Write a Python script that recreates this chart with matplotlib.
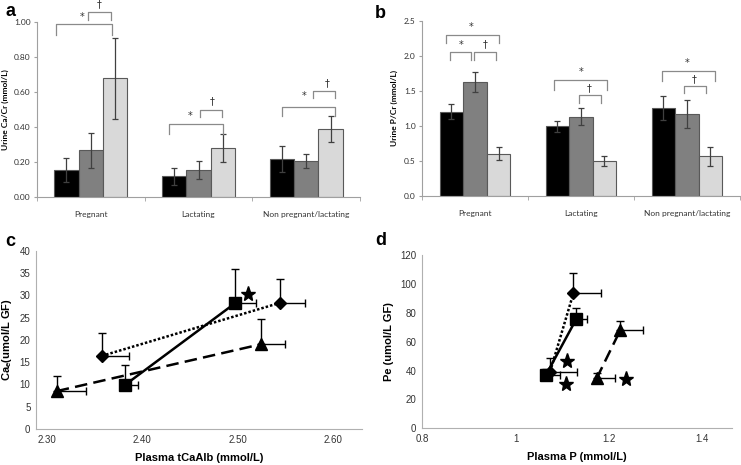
import matplotlib
import matplotlib.pyplot as plt
import numpy as np

matplotlib.use("Agg")

plt.rcParams["mathtext.fontset"] = "custom"
plt.rcParams["mathtext.bf"] = "Liberation Sans:bold"
plt.rcParams["mathtext.rm"] = "Liberation Sans"

# ---- data ----
groups = ["Pregnant", "Lactating", "Non pregnant/lactating"]

# panel a: urine Ca/Cr (mmol/L)
ca_black = [0.155, 0.12, 0.22]
ca_black_err = [0.07, 0.047, 0.075]
ca_gray = [0.27, 0.155, 0.21]
ca_gray_err = [0.10, 0.05, 0.04]
ca_light = [0.68, 0.28, 0.39]
ca_light_err = [0.23, 0.08, 0.073]

# panel b: urine P/Cr (mmol/L)
p_black = [1.20, 0.99, 1.25]
p_black_err = [0.11, 0.08, 0.17]
p_gray = [1.62, 1.13, 1.17]
p_gray_err = [0.14, 0.12, 0.20]
p_light = [0.60, 0.50, 0.56]
p_light_err = [0.09, 0.07, 0.13]

# significance brackets: (group, x0, x1, top, leg, symbol, sym_x, sym_y)
ca_brackets = [
    (0, -0.32, 0.20, 0.99, 0.93, "*", -0.085, 1.00),
    (0, -0.03, 0.19, 1.057, 1.013, "\u2020", 0.076, 1.075),
    (1, -0.27, 0.23, 0.42, 0.36, "*", -0.08, 0.435),
    (1, 0.013, 0.222, 0.50, 0.457, "\u2020", 0.127, 0.52),
    (2, -0.225, 0.27, 0.515, 0.465, "*", -0.02, 0.55),
    (2, 0.062, 0.272, 0.61, 0.565, "\u2020", 0.194, 0.625),
]
p_brackets = [
    (0, -0.276, 0.226, 2.296, 2.177, "*", -0.04, 2.33),
    (0, -0.239, -0.035, 2.05, 1.94, "*", -0.135, 2.08),
    (0, -0.012, 0.198, 2.05, 1.94, "\u2020", 0.094, 2.09),
    (1, -0.251, 0.245, 1.653, 1.51, "*", 0.004, 1.70),
    (1, -0.019, 0.192, 1.43, 1.32, "\u2020", 0.08, 1.46),
    (2, -0.233, 0.264, 1.786, 1.63, "*", 0.0, 1.82),
    (2, -0.031, 0.179, 1.567, 1.46, "\u2020", 0.07, 1.585),
]

# panel c: plasma tCaAlb vs Ca_e
c_tri_x = [2.3105, 2.524]
c_tri_y = [8.5, 19.0]
c_tri_xerr = [0.031, 0.025]
c_tri_yerr = [3.5, 5.7]
c_sq_x = [2.382, 2.497]
c_sq_y = [9.9, 28.2]
c_sq_xerr = [0.014, 0.022]
c_sq_yerr = [4.5, 7.6]
c_dia_x = [2.3576, 2.544]
c_dia_y = [16.4, 28.3]
c_dia_xerr = [0.028, 0.026]
c_dia_yerr = [5.2, 5.3]
c_star_x = [2.511]
c_star_y = [30.4]

# panel d: plasma P vs P_e
d_tri_x = [1.174, 1.225]
d_tri_y = [34.6, 68.1]
d_tri_xerr = [0.039, 0.049]
d_tri_yerr = [4.0, 6.4]
d_sq_x = [1.065, 1.130]
d_sq_y = [36.9, 75.5]
d_sq_xerr = [0.03, 0.023]
d_sq_yerr = [4.0, 8.0]
d_dia_x = [1.074, 1.124]
d_dia_y = [39.2, 93.5]
d_dia_xerr = [0.057, 0.059]
d_dia_yerr = [9.2, 13.8]
d_star_x = [1.1095, 1.108, 1.238]
d_star_y = [46.8, 30.7, 34.2]

BAR_FONT = "Lato"
SC_FONT = "Liberation Sans"
AXIS_GRAY = "#a0a0a0"


def bar_panel(ax, series, errs, brackets, ylim, yticks, fmt, ylabel, width):
    x = np.arange(len(groups))
    colors = ["#000000", "#808080", "#d9d9d9"]
    for i, (vals, err) in enumerate(zip(series, errs)):
        ax.bar(x + (i - 1) * width, vals, width, color=colors[i],
               edgecolor="#595959", linewidth=0.8, zorder=2)
        ax.errorbar(x + (i - 1) * width, vals, yerr=err, fmt="none",
                    ecolor="#404040", elinewidth=0.9, capsize=2.2,
                    capthick=0.9, zorder=3)
    for g, x0, x1, top, leg, sym, sx, sy in brackets:
        ax.plot([g + x0, g + x0, g + x1, g + x1], [leg, top, top, leg],
                color="#8a8a8a", lw=0.9, clip_on=False, zorder=4)
        ax.text(g + sx, sy, sym, ha="center", va="bottom", fontsize=7,
                color="#333333", clip_on=False)
    ax.set_xlim(-0.5, 2.5)
    ax.set_ylim(*ylim)
    ax.set_yticks(yticks)
    ax.set_yticklabels([fmt.format(v) for v in yticks], fontsize=6,
                       family=BAR_FONT, color="#333333")
    ax.set_xticks(x)
    ax.set_xticklabels(groups, fontsize=6, family=BAR_FONT, color="#333333")
    ax.set_xticks([-0.5, 0.5, 1.5, 2.5], minor=True)
    ax.tick_params(axis="x", which="major", length=0, pad=10)
    ax.tick_params(axis="x", which="minor", length=3, color=AXIS_GRAY)
    ax.tick_params(axis="y", length=2.5, color=AXIS_GRAY, pad=2)
    for s in ["top", "right"]:
        ax.spines[s].set_visible(False)
    for s in ["left", "bottom"]:
        ax.spines[s].set_color(AXIS_GRAY)
        ax.spines[s].set_linewidth(0.8)
    ax.set_ylabel(ylabel, fontsize=6, family=BAR_FONT, fontweight="bold",
                  labelpad=4)


def errpoint(ax, x, y, xerr, yerr, marker, ms, ls):
    ax.plot(x, y, color="black", linestyle=ls, lw=1.8, zorder=2)
    ax.errorbar(x, y, xerr=[np.zeros(len(x)), xerr],
                yerr=[np.zeros(len(y)), yerr], fmt="none", ecolor="black",
                elinewidth=1.0, capsize=3, capthick=1.0, zorder=3)
    ax.plot(x, y, linestyle="none", marker=marker, ms=ms, color="black",
            zorder=4)


def scatter_panel(ax, xlim, ylim, xticks, xfmt, yticks, xlabel, ylabel):
    ax.set_xlim(*xlim)
    ax.set_ylim(*ylim)
    ax.set_xticks(xticks)
    ax.set_xticklabels([xfmt(v) for v in xticks], fontsize=7,
                       family=SC_FONT, color="#333333")
    ax.set_yticks(yticks)
    ax.set_yticklabels([str(v) for v in yticks], fontsize=7,
                       family=SC_FONT, color="#333333")
    ax.tick_params(length=0, pad=4)
    for s in ["top", "right"]:
        ax.spines[s].set_visible(False)
    for s in ["left", "bottom"]:
        ax.spines[s].set_color("#b0b0b0")
        ax.spines[s].set_linewidth(0.8)
    ax.set_xlabel(xlabel, fontsize=8, family=SC_FONT, fontweight="bold",
                  labelpad=6)
    ax.set_ylabel(ylabel, fontsize=8, family=SC_FONT, fontweight="bold",
                  labelpad=4)


fig = plt.figure(figsize=(7.41, 4.65), dpi=100, facecolor="white")

ax_a = fig.add_axes([0.0499, 0.5757, 0.436, 0.3763])
bar_panel(ax_a, [ca_black, ca_gray, ca_light],
          [ca_black_err, ca_gray_err, ca_light_err], ca_brackets,
          (0, 1.0), [0, 0.2, 0.4, 0.6, 0.8, 1.0], "{:.2f}",
          "Urine Ca/Cr (mmol/L)", 0.226)

ax_b = fig.add_axes([0.5695, 0.5791, 0.429, 0.3768])
bar_panel(ax_b, [p_black, p_gray, p_light],
          [p_black_err, p_gray_err, p_light_err], p_brackets,
          (0, 2.5), [0, 0.5, 1.0, 1.5, 2.0, 2.5], "{:.1f}",
          "Urine P/Cr (mmol/L)", 0.222)

ax_c = fig.add_axes([0.0486, 0.0774, 0.4395, 0.3834])
errpoint(ax_c, c_tri_x, c_tri_y, c_tri_xerr, c_tri_yerr, "^", 9, (0, (5, 2.5)))
errpoint(ax_c, c_sq_x, c_sq_y, c_sq_xerr, c_sq_yerr, "s", 8.5, "-")
errpoint(ax_c, c_dia_x, c_dia_y, c_dia_xerr, c_dia_yerr, "D", 6.5, (0, (1, 0.8)))
ax_c.plot(c_star_x, c_star_y, linestyle="none", marker="*", ms=11,
          color="black", zorder=4)
scatter_panel(ax_c, (2.2888, 2.6296), (0, 40), [2.3, 2.4, 2.5, 2.6],
              lambda v: f"{v:.2f}", list(range(0, 41, 5)),
              "Plasma tCaAlb (mmol/L)", r"$\mathbf{Ca_e}$(umol/L GF)")

ax_d = fig.add_axes([0.569, 0.0789, 0.4184, 0.3727])
errpoint(ax_d, d_tri_x, d_tri_y, d_tri_xerr, d_tri_yerr, "^", 9, (0, (5, 2.5)))
errpoint(ax_d, d_sq_x, d_sq_y, d_sq_xerr, d_sq_yerr, "s", 8.5, "-")
errpoint(ax_d, d_dia_x, d_dia_y, d_dia_xerr, d_dia_yerr, "D", 6.5, (0, (1, 0.8)))
ax_d.plot(d_star_x, d_star_y, linestyle="none", marker="*", ms=11,
          color="black", zorder=4)
scatter_panel(ax_d, (0.798, 1.464), (0, 120), [0.8, 1.0, 1.2, 1.4],
              lambda v: f"{v:g}", list(range(0, 121, 20)),
              "Plasma P (mmol/L)", "Pe (umol/L GF)")

for lbl, (px, py) in zip("abcd", [(5, 12), (375, 13), (5, 242), (375, 240)]):
    fig.text(px / 741, 1 - py / 465, lbl, fontsize=13, fontweight="bold",
             family=SC_FONT, va="center", ha="left")

fig.savefig("out.png", dpi=100, facecolor="white")
plt.close(fig)
